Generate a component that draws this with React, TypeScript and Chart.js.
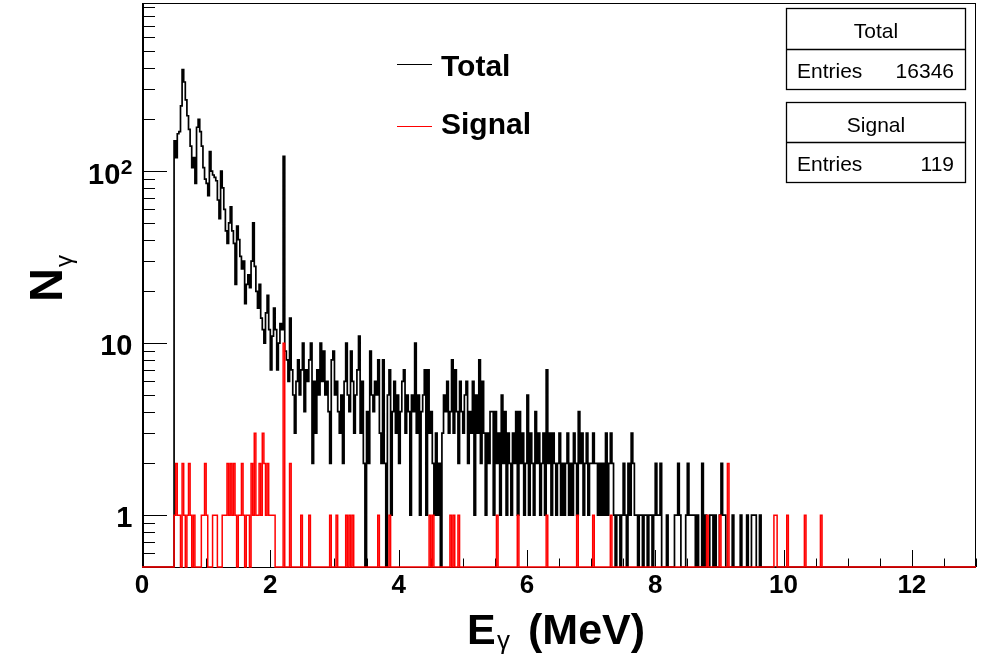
import React, { useEffect, useRef } from 'react';
import { Chart, registerables } from 'chart.js';

Chart.register(...registerables);

// ---------- axis ranges / ticks ----------
const X_MIN = 0;
const X_MAX = 13;
const Y_MIN = 0.5;
const Y_MAX = 950;
const X_TICK_STEP = 0.5;
const X_LABEL_STEP = 2;
const Y_LABELS = [1, 10, 100];

// ---------- histogram binning ----------
const FIRST_BIN = 0.5; // MeV, low edge of first filled bin
const BIN_WIDTH = 0.025; // MeV

// ---------- Total: counts per bin (each array covers 0.5 MeV) ----------
const total_0p5 = [150, 120, 165, 170, 240, 390, 330, 260, 210, 175, 140, 105, 120, 85, 180, 200, 170, 140, 105, 90];
const total_1p0 = [85, 72, 130, 100, 95, 92, 88, 68, 53, 100, 80, 60, 45, 38, 50, 62, 45, 38, 22, 48];
const total_1p5 = [40, 32, 27, 30, 17, 22, 25, 21, 30, 50, 28, 20, 16, 22, 14, 12, 10, 15, 19, 12];
const total_2p0 = [7, 11, 16, 12, 7, 10, 13, 12, 122, 9, 8, 6, 14, 7, 5, 3, 6, 8, 5, 7];
const total_2p5 = [10, 4, 7, 6, 8, 10, 2, 6, 3, 7, 5, 10, 6, 9, 5, 6, 4, 2, 8, 9];
const total_3p0 = [5, 6, 4, 3, 5, 2, 6, 10, 5, 4, 9, 6, 3, 5, 7, 11, 3, 6, 2, 0];
const total_3p5 = [4, 2, 9, 5, 4, 6, 5, 8, 3, 2, 8, 2, 0, 5, 7, 1, 4, 6, 3, 5];
const total_4p0 = [2, 4, 6, 7, 3, 5, 4, 1, 5, 4, 10, 3, 5, 1, 4, 5, 7, 1, 7, 3];
const total_4p5 = [4, 2, 1, 3, 1, 2, 0, 3, 5, 4, 6, 3, 4, 8, 3, 7, 4, 2, 6, 4];
const total_5p0 = [3, 5, 6, 2, 4, 3, 6, 1, 5, 3, 8, 2, 6, 3, 1, 3, 2, 4, 4, 1];
const total_5p5 = [4, 2, 3, 1, 5, 2, 4, 1, 3, 2, 1, 3, 2, 4, 1, 4, 2, 3, 1, 2];
const total_6p0 = [5, 1, 3, 2, 1, 4, 2, 3, 1, 2, 3, 1, 7, 2, 3, 1, 3, 2, 1, 2];
const total_6p5 = [3, 1, 2, 1, 2, 3, 1, 2, 1, 3, 2, 1, 4, 2, 3, 1, 2, 3, 1, 2];
const total_7p0 = [2, 3, 2, 2, 1, 2, 1, 2, 1, 3, 1, 2, 3, 2, 1, 0, 1, 1, 0, 1];
const total_7p5 = [2, 1, 0, 2, 1, 3, 2, 1, 1, 0, 1, 1, 0, 1, 1, 0, 1, 1, 0, 1];
const total_8p0 = [2, 1, 1, 2, 0, 0, 0, 1, 0, 0, 0, 0, 1, 1, 2, 1, 0, 0, 0, 1];
const total_8p5 = [2, 1, 1, 1, 1, 0, 1, 0, 0, 2, 0, 1, 0, 0, 1, 1, 0, 1, 0, 0];
const total_9p0 = [1, 2, 1, 1, 0, 0, 0, 0, 1, 0, 0, 0, 0, 1, 0, 0, 0, 1, 0, 0];
const total_9p5 = [1, 1, 1, 0, 0, 1];

// ---------- Signal: dense part (0.5 - 2.3 MeV) ----------
const signal_0p5 = [1, 2, 1, 1, 0, 2, 1, 0, 1, 2, 1, 0, 1, 0, 0, 0, 0, 1, 1, 2];
const signal_1p0 = [1, 0, 0, 0, 1, 1, 1, 0, 0, 0, 1, 1, 1, 2, 1, 2, 1, 2, 1, 0];
const signal_1p5 = [1, 1, 2, 1, 0, 1, 1, 0, 2, 1, 3, 1, 1, 2, 1, 3, 2, 1, 2, 1];
const signal_2p0 = [1, 1, 1, 0, 0, 0, 0, 0, 10, 0, 0, 0, 2];
// ---------- Signal: sparse tail (bin low edge, count) ----------
const signalTailE = [2.475, 2.6, 2.925, 3.025, 3.175, 3.225, 3.275, 3.675, 3.85, 4.475, 4.525, 4.8, 4.85, 4.925, 5.525, 5.85, 6.3, 6.775, 7.025, 7.3, 8.8, 9.0, 9.125, 9.85, 9.875, 10.05, 10.325, 10.575];
const signalTailN = [1, 1, 1, 1, 1, 1, 1, 1, 1, 1, 1, 1, 1, 1, 1, 1, 1, 1, 1, 1, 1, 1, 2, 1, 1, 1, 1, 1];

// ---------- stats / labels ----------
const TOTAL_LABEL = 'Total';
const SIGNAL_LABEL = 'Signal';
const TOTAL_ENTRIES = 16346;
const SIGNAL_ENTRIES = 119;

const FONT = '"Liberation Sans", Arial, Helvetica, sans-serif';

const totalCounts = [
  ...total_0p5, ...total_1p0, ...total_1p5, ...total_2p0, ...total_2p5, ...total_3p0,
  ...total_3p5, ...total_4p0, ...total_4p5, ...total_5p0, ...total_5p5, ...total_6p0,
  ...total_6p5, ...total_7p0, ...total_7p5, ...total_8p0, ...total_8p5, ...total_9p0, ...total_9p5,
];

function buildSignalCounts(): number[] {
  const dense = [...signal_0p5, ...signal_1p0, ...signal_1p5, ...signal_2p0];
  const last = Math.max(...signalTailE);
  const n = Math.round((last - FIRST_BIN) / BIN_WIDTH) + 1;
  const out = new Array(n).fill(0);
  dense.forEach((c, i) => (out[i] = c));
  signalTailE.forEach((e, k) => {
    const i = Math.round((e - FIRST_BIN) / BIN_WIDTH);
    out[i] += signalTailN[k];
  });
  return out;
}

function histPoints(counts: number[]) {
  const pts: { x: number; y: number }[] = [{ x: X_MIN, y: Y_MIN }];
  counts.forEach((c, i) => pts.push({ x: FIRST_BIN + i * BIN_WIDTH, y: c > 0 ? c : Y_MIN }));
  pts.push({ x: FIRST_BIN + counts.length * BIN_WIDTH, y: Y_MIN });
  pts.push({ x: X_MAX, y: Y_MIN });
  return pts;
}

const rootDecor = {
  id: 'rootDecor',
  beforeDatasetsDraw(chart: any) {
    const { ctx, chartArea: a, scales } = chart;
    const xs = scales.x;
    const ys = scales.y;
    ctx.save();
    ctx.strokeStyle = '#000';
    ctx.lineWidth = 1;
    // x ticks (inside the frame)
    xs.ticks.forEach((t: any) => {
      const px = Math.round(xs.getPixelForValue(t.value)) + 0.5;
      const major = Math.abs(t.value / X_LABEL_STEP - Math.round(t.value / X_LABEL_STEP)) < 1e-6;
      const len = major ? 17 : 8.5;
      ctx.beginPath();
      ctx.moveTo(px, a.bottom);
      ctx.lineTo(px, a.bottom - len);
      ctx.stroke();
    });
    // y ticks
    ys.ticks.forEach((t: any) => {
      const py = Math.round(ys.getPixelForValue(t.value)) + 0.5;
      const m = t.value / Math.pow(10, Math.floor(Math.log10(t.value) + 1e-9));
      const len = Math.abs(m - 1) < 1e-6 ? 25 : 13;
      ctx.beginPath();
      ctx.moveTo(a.left, py);
      ctx.lineTo(a.left + len, py);
      ctx.stroke();
    });
    // frame
    ctx.strokeRect(a.left + 0.5, a.top + 0.5, a.right - a.left - 1, a.bottom - a.top);
    ctx.lineWidth = 2;
    ctx.beginPath();
    ctx.moveTo(a.left + 1, a.top);
    ctx.lineTo(a.left + 1, a.bottom + 1);
    ctx.stroke();
    ctx.restore();
  },
  afterDraw(chart: any) {
    const { ctx, scales } = chart;
    const ys = scales.y;
    const a = chart.chartArea;
    ctx.save();
    ctx.fillStyle = '#000';
    ctx.textBaseline = 'alphabetic';

    // y tick labels
    Y_LABELS.forEach((v) => {
      const py = ys.getPixelForValue(v);
      const exp = Math.round(Math.log10(v));
      const right = a.left - 9.5;
      if (exp >= 2) {
        ctx.font = `bold 21px ${FONT}`;
        ctx.textAlign = 'right';
        const sup = String(exp);
        const w = ctx.measureText(sup).width;
        ctx.fillText(sup, right, py + 3);
        ctx.font = `bold 29px ${FONT}`;
        ctx.fillText('10', right - w - 0.5, py + 12.5);
      } else {
        ctx.font = `bold 29px ${FONT}`;
        ctx.textAlign = 'right';
        ctx.fillText(String(v), right, py + 11.5);
      }
    });

    // y title: N_gamma (rotated)
    ctx.save();
    ctx.translate(62, 302);
    ctx.rotate(-Math.PI / 2);
    ctx.textAlign = 'left';
    ctx.font = `bold 47px ${FONT}`;
    ctx.fillText('N', 0, 0);
    const nW = ctx.measureText('N').width;
    ctx.font = `24px ${FONT}`;
    ctx.fillText('\u03b3', nW + 1, 10);
    ctx.restore();

    // x title: E_gamma (MeV)
    ctx.textAlign = 'left';
    ctx.font = `bold 43px ${FONT}`;
    ctx.fillText('E', 467, 644);
    ctx.font = `26px ${FONT}`;
    ctx.fillText('\u03b3', 497, 649);
    ctx.font = `bold 43px ${FONT}`;
    ctx.fillText('(MeV)', 528, 644);

    // legend (no box)
    const ds = chart.data.datasets;
    const legendItems = [ds[1], ds[0]];
    const legendY = [64.5, 126.5];
    const legendBase = [76, 134];
    legendItems.forEach((d: any, i: number) => {
      ctx.strokeStyle = d.borderColor;
      ctx.lineWidth = 1;
      ctx.beginPath();
      ctx.moveTo(397, legendY[i]);
      ctx.lineTo(432, legendY[i]);
      ctx.stroke();
      ctx.fillStyle = '#000';
      ctx.font = `bold 30px ${FONT}`;
      ctx.textAlign = 'left';
      ctx.fillText(d.label, 441, legendBase[i]);
    });

    // stats boxes
    const boxes = [
      { title: TOTAL_LABEL, entries: TOTAL_ENTRIES, top: 8, mid: 49, bottom: 89 },
      { title: SIGNAL_LABEL, entries: SIGNAL_ENTRIES, top: 102, mid: 142, bottom: 182 },
    ];
    boxes.forEach((b) => {
      const left = 786.5;
      const right = 965.5;
      ctx.fillStyle = '#fff';
      ctx.fillRect(left, b.top + 0.5, right - left, b.bottom - b.top);
      ctx.strokeStyle = '#000';
      ctx.lineWidth = 1.3;
      ctx.strokeRect(left, b.top + 0.5, right - left, b.bottom - b.top);
      ctx.beginPath();
      ctx.moveTo(left, b.mid + 0.5);
      ctx.lineTo(right, b.mid + 0.5);
      ctx.stroke();
      ctx.fillStyle = '#000';
      ctx.font = `21px ${FONT}`;
      ctx.textAlign = 'center';
      ctx.fillText(b.title, (left + right) / 2, b.top + 30);
      ctx.textAlign = 'left';
      ctx.fillText('Entries', 797, b.mid + 29);
      ctx.textAlign = 'right';
      ctx.fillText(String(b.entries), 954, b.mid + 29);
    });
    ctx.restore();
  },
};

export default function App() {
  const canvasRef = useRef<HTMLCanvasElement | null>(null);

  useEffect(() => {
    const canvas = canvasRef.current;
    if (!canvas) return;
    const signalCounts = buildSignalCounts();
    const chart = new Chart(canvas, {
      type: 'line',
      data: {
        datasets: [
          {
            label: SIGNAL_LABEL,
            data: histPoints(signalCounts),
            borderColor: 'red',
            borderWidth: 1.5,
            pointRadius: 0,
            stepped: 'before',
            clip: false,
            fill: false,
          } as any,
          {
            label: TOTAL_LABEL,
            data: histPoints(totalCounts),
            borderColor: 'black',
            borderWidth: 1.7,
            pointRadius: 0,
            stepped: 'before',
            clip: false,
            fill: false,
          } as any,
        ],
      },
      options: {
        responsive: false,
        animation: false,
        devicePixelRatio: 1,
        events: [],
        layout: { padding: { top: 3, right: 7, left: 0, bottom: 0 } },
        plugins: { legend: { display: false }, tooltip: { enabled: false }, title: { display: false } },
        scales: {
          x: {
            type: 'linear',
            min: X_MIN,
            max: X_MAX,
            grid: { display: false, drawTicks: false },
            border: { display: false },
            ticks: {
              autoSkip: false,
              maxRotation: 0,
              minRotation: 0,
              padding: 3,
              color: '#000',
              font: { family: FONT, size: 26, weight: 'bold' },
              callback: (v: any) => {
                const n = Number(v);
                return Math.abs(n / X_LABEL_STEP - Math.round(n / X_LABEL_STEP)) < 1e-6 ? String(Math.round(n)) : '';
              },
            },
            afterBuildTicks: (scale: any) => {
              const ticks = [];
              for (let v = X_MIN; v <= X_MAX + 1e-9; v += X_TICK_STEP) ticks.push({ value: Math.round(v * 1000) / 1000 });
              scale.ticks = ticks;
            },
            afterFit: (scale: any) => {
              scale.height = 99;
              scale.paddingLeft = 0;
              scale.paddingRight = 0;
            },
          },
          y: {
            type: 'logarithmic',
            min: Y_MIN,
            max: Y_MAX,
            grid: { display: false, drawTicks: false },
            border: { display: false },
            ticks: { display: false },
            afterBuildTicks: (scale: any) => {
              const ticks = [];
              for (let e = -1; e <= 3; e++) {
                for (let k = 1; k <= 9; k++) {
                  const v = k * Math.pow(10, e);
                  if (v >= Y_MIN && v <= Y_MAX) ticks.push({ value: v });
                }
              }
              scale.ticks = ticks;
            },
            afterFit: (scale: any) => {
              scale.width = 142;
              scale.paddingTop = 0;
              scale.paddingBottom = 0;
            },
          },
        },
      } as any,
      plugins: [rootDecor],
    });
    return () => chart.destroy();
  }, []);

  return (
    <div style={{ position: 'fixed', left: 0, top: 0, width: 983, height: 666, background: '#fff' }}>
      <canvas ref={canvasRef} width={983} height={666} style={{ display: 'block' }} />
    </div>
  );
}
